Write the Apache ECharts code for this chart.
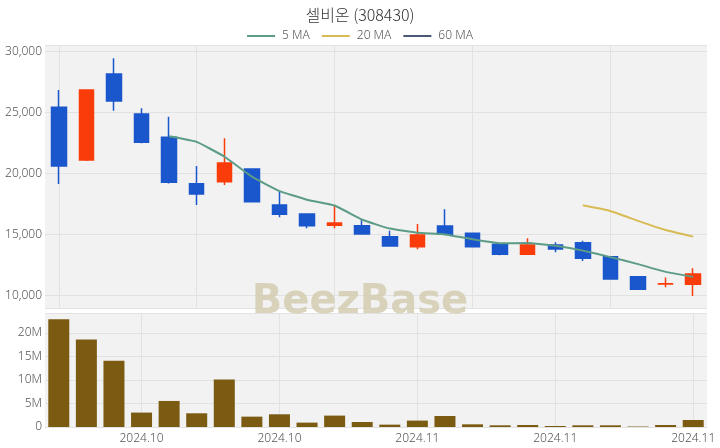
<!DOCTYPE html>
<html>
<head>
<meta charset="utf-8">
<script src="https://cdn.jsdelivr.net/npm/echarts@6/dist/echarts.min.js"></script>
<style>html,body{margin:0;padding:0;background:#fff;}#c{width:720px;height:448px;}</style>
</head>
<body>
<div id="c"></div>
<script>
const dates = ['2024-10-17','2024-10-18','2024-10-21','2024-10-22','2024-10-23','2024-10-24','2024-10-25','2024-10-28','2024-10-29','2024-10-30','2024-10-31','2024-11-01','2024-11-04','2024-11-05','2024-11-06','2024-11-07','2024-11-08','2024-11-11','2024-11-12','2024-11-13','2024-11-14','2024-11-15','2024-11-18','2024-11-19'];
const opens  = [25440,21120,28170,24890,22980,19180,19340,20380,17430,16700,15770,15740,14840,14020,15710,15110,14210,13390,14160,14340,13200,11560,10950,10930];
const closes = [20630,26860,25960,22570,19290,18340,20880,17700,16670,15740,15960,15060,14070,14970,15030,14020,13390,14160,13830,13060,11370,10520,10980,11780];
const lows   = [19160,21050,25160,22500,19200,17430,19070,17700,16430,15520,15520,15060,14070,13800,15030,13940,13310,13390,13560,12840,11370,10520,10690, 9980];
const highs  = [26860,26860,29460,25360,24670,20630,22900,20400,18525,16750,17430,16290,15330,15880,17080,15110,14210,14700,14370,14510,13200,11560,11500,12250];
const volumes = [22850000,18600000,14050000,3060000,5530000,2910000,10080000,2200000,2700000,930000,2420000,1060000,500000,1360000,2340000,570000,360000,430000,210000,360000,360000,100000,430000,1490000];
const ma5  = [null,null,null,null,23062,22604,21408,19756,18576,17866,17390,16226,15500,15160,15018,14630,14296,14314,14086,13692,13162,12588,11952,11542];
const ma20 = [null,null,null,null,null,null,null,null,null,null,null,null,null,null,null,null,null,null,null,17410,16946,16130,15380,14841];
const ma60 = dates.map(() => null);

const candleData = opens.map((o, i) => [o, closes[i], lows[i], highs[i]]);
const chart = echarts.init(document.getElementById('c'));
const lblFont = {color: '#555', fontSize: 12, fontFamily: 'Noto Sans, sans-serif', fontWeight: 300};
chart.setOption({
  animation: false,
  backgroundColor: '#fff',
  title: {text: '셀비온 (308430)', left: 'center', top: 2,
    textStyle: {fontSize: 16, fontWeight: 300, color: '#333', fontFamily: 'Noto Sans CJK KR, sans-serif'}},
  legend: {top: 25, left: 'center', icon: 'rect', itemWidth: 28, itemHeight: 2, itemGap: 12,
    data: ['5 MA', '20 MA', '60 MA'],
    textStyle: {fontSize: 12, color: '#555', fontFamily: 'Noto Sans, sans-serif', fontWeight: 300, padding: [0, 0, 0, 2]}},
  grid: [
    {left: 45, right: 13, top: 45, height: 263, show: true, backgroundColor: '#f2f2f2', borderWidth: 0},
    {left: 45, right: 13, top: 313, height: 114, show: true, backgroundColor: '#f2f2f2', borderWidth: 0}
  ],
  xAxis: [
    {type: 'category', gridIndex: 0, data: dates, boundaryGap: true,
      axisLine: {show: false}, axisTick: {show: false, alignWithLabel: true}, axisLabel: {show: false},
      splitLine: {show: true, alignWithLabel: true, interval: (i) => i % 5 === 0, lineStyle: {color: '#e2e2e2'}}},
    {type: 'category', gridIndex: 1, data: dates, boundaryGap: true,
      axisLine: {show: false}, axisTick: {show: false, alignWithLabel: true},
      axisLabel: Object.assign({interval: (i) => i % 5 === 3, margin: 6,
        formatter: (v) => v.slice(0, 4) + '.' + v.slice(5, 7)}, lblFont),
      splitLine: {show: true, alignWithLabel: true, interval: (i) => i % 5 === 3, lineStyle: {color: '#e2e2e2'}}}
  ],
  yAxis: [
    {type: 'value', gridIndex: 0, min: 8990, max: 30550, splitNumber: 5,
      axisLine: {show: false}, axisTick: {show: false},
      axisLabel: Object.assign({margin: 3, formatter: (v) => v % 5000 === 0 ? v.toLocaleString('en-US') : ''}, lblFont),
      splitLine: {lineStyle: {color: '#e2e2e2'}}},
    {type: 'value', gridIndex: 1, min: 0, max: 24200000, splitNumber: 5,
      axisLine: {show: false}, axisTick: {show: false},
      axisLabel: Object.assign({margin: 3, formatter: (v) => v === 0 ? '0' : (v % 5000000 === 0 ? (v / 1000000) + 'M' : '')}, lblFont),
      splitLine: {lineStyle: {color: '#e2e2e2'}}}
  ],
  series: [
    {name: 'price', type: 'candlestick', xAxisIndex: 0, yAxisIndex: 0, data: candleData, barWidth: 15,
      itemStyle: {color: '#fa3c0a', color0: '#1a56cc', borderColor: '#fa3c0a', borderColor0: '#1a56cc', borderWidth: 1.5}},
    {name: '5 MA', type: 'line', xAxisIndex: 0, yAxisIndex: 0, data: ma5, showSymbol: false, smooth: 0.1,
      lineStyle: {width: 2, color: '#5c9c86'}, itemStyle: {color: '#5c9c86'}},
    {name: '20 MA', type: 'line', xAxisIndex: 0, yAxisIndex: 0, data: ma20, showSymbol: false, smooth: 0.1,
      lineStyle: {width: 2, color: '#d8bb55'}, itemStyle: {color: '#d8bb55'}},
    {name: '60 MA', type: 'line', xAxisIndex: 0, yAxisIndex: 0, data: ma60, showSymbol: false,
      lineStyle: {width: 2, color: '#4c5675'}, itemStyle: {color: '#4c5675'}},
    {name: 'volume', type: 'bar', xAxisIndex: 1, yAxisIndex: 1, data: volumes, barWidth: 21,
      itemStyle: {color: '#7b5b12'}}
  ],
  graphic: [{type: 'text', left: 'center', top: 283, z: 100,
    style: {text: 'BeezBase', fontSize: 40, fontWeight: 'bold', fontFamily: 'DejaVu Sans, sans-serif',
      fill: 'rgba(212,205,178,0.85)'}}]
});
</script>
</body>
</html>
